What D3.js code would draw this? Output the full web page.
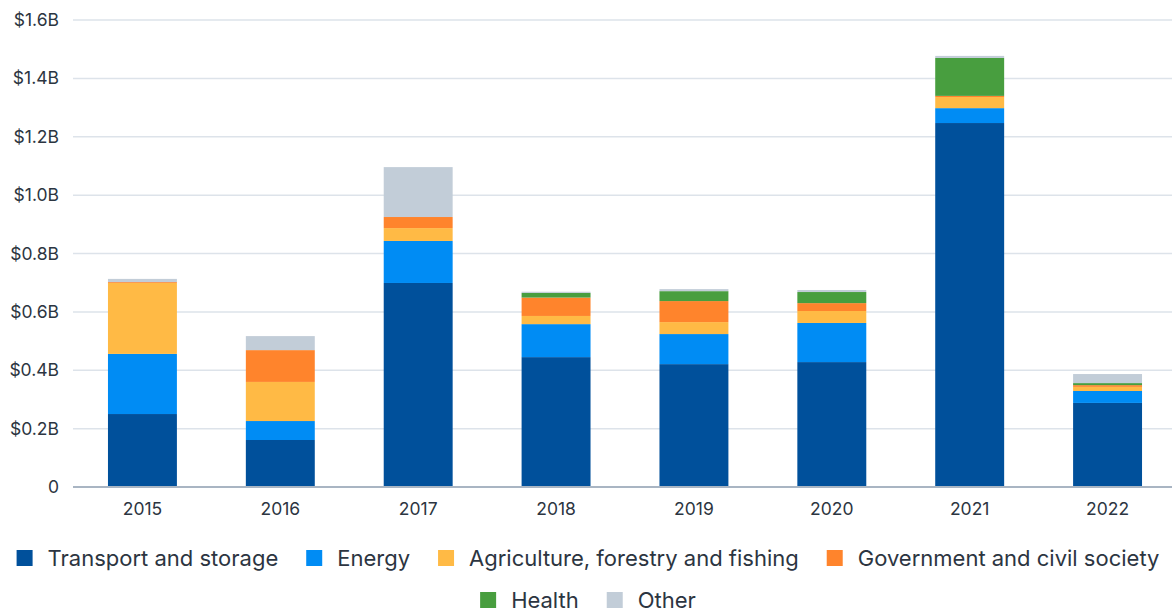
<!DOCTYPE html>
<html>
<head>
<meta charset="utf-8">
<script src="https://cdn.jsdelivr.net/npm/d3@7"></script>
<style>
  html, body { margin: 0; padding: 0; background: #ffffff; }
  svg { display: block; font-family: Inter, "Noto Sans", sans-serif; }
</style>
</head>
<body>
<svg id="chart" width="1172" height="612"></svg>
<script>
// Funding by sector per year, in billions of US dollars
const years = ["2015", "2016", "2017", "2018", "2019", "2020", "2021", "2022"];
const sectors = ["Transport and storage", "Energy", "Agriculture, forestry and fishing",
                 "Government and civil society", "Health", "Other"];
const transport   = [0.250, 0.161, 0.699, 0.445, 0.421, 0.428, 1.247, 0.288];
const energy      = [0.206, 0.065, 0.144, 0.113, 0.103, 0.134, 0.051, 0.041];
const agriculture = [0.243, 0.134, 0.044, 0.028, 0.041, 0.041, 0.038, 0.014];
const government  = [0.003, 0.109, 0.038, 0.063, 0.072, 0.027, 0.004, 0.006];
const health      = [0.000, 0.000, 0.000, 0.016, 0.034, 0.038, 0.130, 0.007];
const other       = [0.011, 0.048, 0.171, 0.004, 0.007, 0.007, 0.007, 0.031];
const yTicks = [0, 0.2, 0.4, 0.6, 0.8, 1.0, 1.2, 1.4, 1.6];
const colors = ["#00509b", "#008cf4", "#ffba45", "#ff842c", "#489e3f", "#c2cdd8"];

const seriesValues = [transport, energy, agriculture, government, health, other];
const rows = years.map((y, i) => {
  const r = { year: y };
  sectors.forEach((s, k) => { r[s] = seriesValues[k][i]; });
  return r;
});

const svg = d3.select("#chart");
const x = d3.scaleBand().domain(years).range([73.5, 1176.5]).paddingInner(0.5).paddingOuter(0.25);
const y = d3.scaleLinear().domain([0, 1.6]).range([487, 20]);
const color = d3.scaleOrdinal().domain(sectors).range(colors);
const textColor = "#2c3541";
const font = "Inter, sans-serif";

// horizontal gridlines
svg.append("g")
  .selectAll("line")
  .data(yTicks.filter(t => t > 0))
  .join("line")
  .attr("x1", 73).attr("x2", 1172)
  .attr("y1", d => y(d)).attr("y2", d => y(d))
  .attr("stroke", "#dde3ea").attr("stroke-width", 1.5);

// y tick labels
const fmt = d => d === 0 ? "0" : "$" + d.toFixed(1) + "B";
svg.append("g")
  .attr("transform", "translate(59,0)")
  .call(d3.axisLeft(y).tickValues(yTicks).tickFormat(fmt).tickSize(0).tickPadding(0))
  .call(g => g.select(".domain").remove())
  .call(g => g.selectAll("text")
    .attr("fill", textColor).attr("font-size", 17.5).attr("font-family", font));

// stacked bars
const stack = d3.stack().keys(sectors)(rows);
svg.append("g")
  .selectAll("g")
  .data(stack)
  .join("g")
  .attr("fill", d => color(d.key))
  .selectAll("rect")
  .data(d => d)
  .join("rect")
  .attr("x", d => x(d.data.year))
  .attr("width", x.bandwidth())
  .attr("y", d => y(d[1]))
  .attr("height", d => Math.max(0, y(d[0]) - y(d[1])));

// baseline
svg.append("line")
  .attr("x1", 73).attr("x2", 1172)
  .attr("y1", y(0)).attr("y2", y(0))
  .attr("stroke", "#a9b5c3").attr("stroke-width", 2);

// x axis labels
svg.append("g")
  .attr("transform", `translate(0,${y(0)})`)
  .call(d3.axisBottom(x).tickSize(0).tickPadding(16))
  .call(g => g.select(".domain").remove())
  .call(g => g.selectAll("text")
    .attr("fill", textColor).attr("font-size", 17.5).attr("font-family", font));

// legend, two centred rows
const legendRows = [sectors.slice(0, 4), sectors.slice(4)];
const legendY = [558, 600];
legendRows.forEach((items, ri) => {
  const row = svg.append("g");
  let cx = 0;
  items.forEach((s, k) => {
    const item = row.append("g").attr("transform", `translate(${cx},0)`);
    item.append("rect").attr("x", 0).attr("y", -8).attr("width", 16).attr("height", 16)
      .attr("fill", color(s));
    const t = item.append("text").attr("x", 31).attr("y", 0).attr("dy", "0.35em")
      .attr("fill", textColor).attr("font-size", 22).attr("font-family", font)
      .text(s);
    cx += 31 + t.node().getComputedTextLength() + 28;
  });
  const total = cx - 28;
  row.attr("transform", `translate(${(1172 - total) / 2 + 2},${legendY[ri]})`);
});
</script>
</body>
</html>
